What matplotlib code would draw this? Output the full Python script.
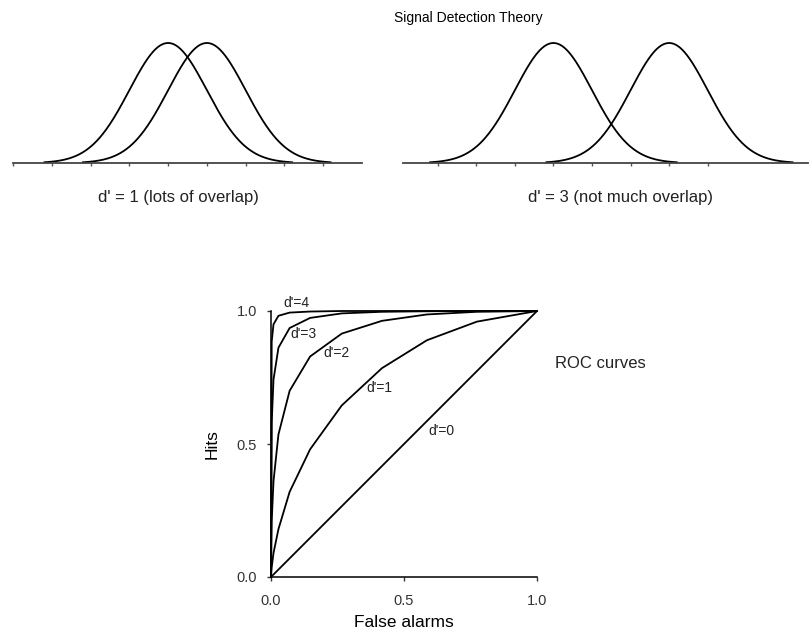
import numpy as np
import matplotlib.pyplot as plt

plt.rcParams['font.family'] = ['Liberation Sans', 'DejaVu Sans']

# top panels: noise / signal distribution means (in sd units)
left_means = [0, 1]
right_means = [0, 3]
left_ticks = [-4, -3, -2, -1, 0, 1, 2, 3, 4]
right_ticks = [-3, -2, -1, 0, 1, 2, 3, 4]

# ROC curves
fa = [0, 0.0026, 0.0094, 0.028, 0.07, 0.147, 0.266, 0.417, 0.586, 0.774, 1.0]
hits_d0 = fa
hits_d1 = [0, 0.036, 0.09, 0.18, 0.32, 0.48, 0.645, 0.785, 0.89, 0.96, 1.0]
hits_d2 = [0, 0.21, 0.36, 0.536, 0.70, 0.829, 0.915, 0.963, 0.987, 0.997, 1.0]
hits_d3 = [0, 0.58, 0.742, 0.862, 0.936, 0.974, 0.991, 0.997, 0.999, 1.0, 1.0]
hits_d4 = [0, 0.885, 0.95, 0.982, 0.994, 0.998, 1.0, 1.0, 1.0, 1.0, 1.0]
roc_labels = ["d'=0", "d'=1", "d'=2", "d'=3", "d'=4"]
label_xy = [(0.59, 0.55), (0.357, 0.71), (0.196, 0.842), (0.071, 0.913), (0.045, 1.03)]

W, H = 810, 642
fig = plt.figure(figsize=(W / 100, H / 100), dpi=100)


def px_axes(x0, y_top, x1, y_bot):
    return fig.add_axes([x0 / W, 1 - y_bot / H, (x1 - x0) / W, (y_bot - y_top) / H])


def gauss(x, mu):
    return np.exp(-0.5 * (x - mu) ** 2) / np.sqrt(2 * np.pi)


def dist_panel(ax, means, xlim, ticks):
    x = np.linspace(xlim[0], xlim[1], 600)
    for mu in means:
        xx = x[np.abs(x - mu) <= 3.2]
        ax.plot(xx, gauss(xx, mu), color='black', lw=1.3, clip_on=False)
    ax.set_xlim(*xlim)
    ax.set_ylim(0, 0.3989)
    for s in ['top', 'left', 'right']:
        ax.spines[s].set_visible(False)
    ax.spines['bottom'].set_color('#444444')
    ax.spines['bottom'].set_linewidth(1.3)
    ax.set_yticks([])
    ax.set_xticks(ticks)
    ax.set_xticklabels([])
    ax.tick_params(axis='x', direction='out', length=2.5, width=1, color='#555555')
    ax.patch.set_visible(False)


ax1 = px_axes(13, 43, 362, 163)
dist_panel(ax1, left_means, (-4, 5), left_ticks)
ax2 = px_axes(403, 43, 808, 163)
dist_panel(ax2, right_means, (-3.9, 6.6), right_ticks)

fig.text(468 / W, 1 - 18 / H, 'Signal Detection Theory', ha='center', va='center', fontsize=10)
fig.text(178 / W, 1 - 198 / H, "d' = 1 (lots of overlap)", ha='center', va='center', fontsize=12, color='#222222')
fig.text(621 / W, 1 - 198 / H, "d' = 3 (not much overlap)", ha='center', va='center', fontsize=12, color='#222222')

# ROC panel
ax = px_axes(271, 311, 537, 577)
for hits in [hits_d0, hits_d1, hits_d2, hits_d3, hits_d4]:
    ax.plot(fa, hits, color='black', lw=1.3, clip_on=False)
for lab, (lx, ly) in zip(roc_labels, label_xy):
    ax.text(lx, ly, lab, ha='left', va='center', fontsize=10, color='#222222')
ax.set_xlim(0, 1)
ax.set_ylim(0, 1)
ax.set_xticks([0, 0.5, 1.0])
ax.set_yticks([0, 0.5, 1.0])
ax.set_xticklabels(['0.0', '0.5', '1.0'])
ax.set_yticklabels(['0.0', '0.5', '1.0'])
ax.tick_params(direction='out', length=3, width=1, labelsize=10.5, colors='#333333')
ax.tick_params(axis='x', pad=9)
ax.tick_params(axis='y', pad=7)
for s in ['top', 'right']:
    ax.spines[s].set_visible(False)
for s in ['left', 'bottom']:
    ax.spines[s].set_linewidth(1.1)
ax.set_xlabel('False alarms', fontsize=12.5, labelpad=5)
ax.set_ylabel('Hits', fontsize=12.5, labelpad=12)
fig.text(555 / W, 1 - 363 / H, 'ROC curves', ha='left', va='center', fontsize=12, color='#222222')

fig.savefig('out.png', dpi=100)
